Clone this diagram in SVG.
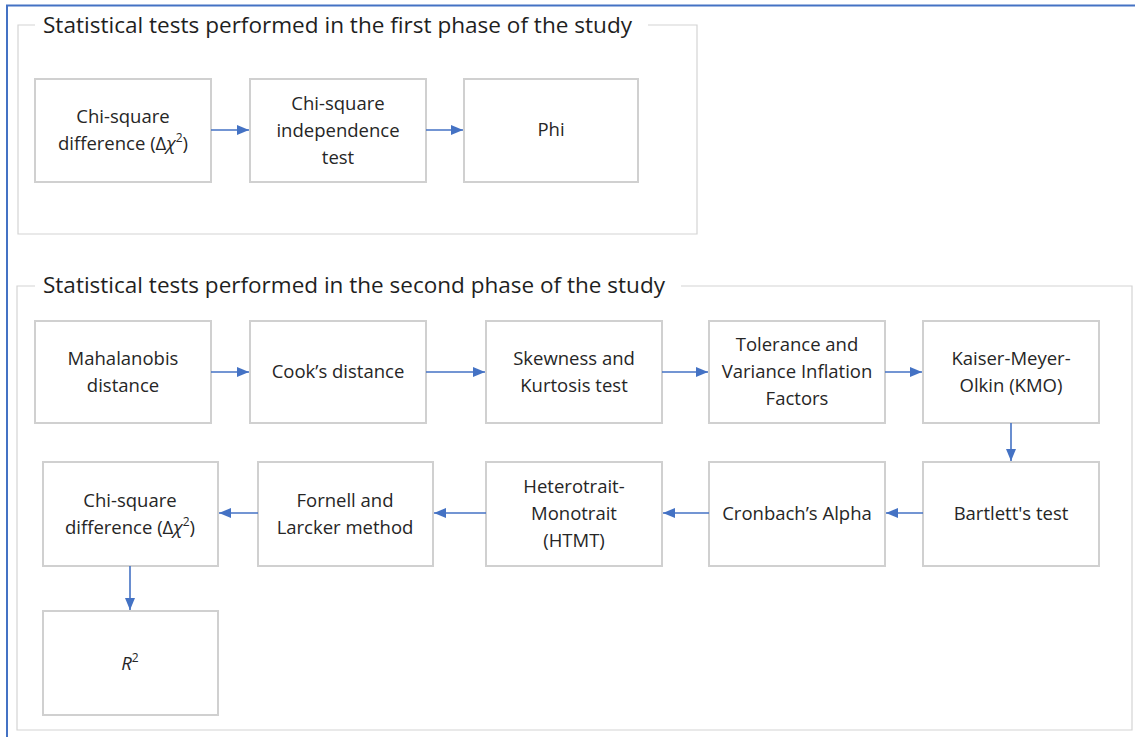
<svg xmlns="http://www.w3.org/2000/svg" width="1135" height="737" viewBox="0 0 1135 737">
  <style>
    .frame { fill: none; stroke: #d4d4d4; stroke-width: 1.2; }
    .box { fill: #ffffff; stroke: #d0d0d0; stroke-width: 2; }
    .title { font-family: "Open Sans", "Noto Sans", sans-serif; font-size: 21px; fill: #1f1f1f; }
    .lbl { font-family: "Open Sans", "Noto Sans", sans-serif; font-size: 18.5px; fill: #262626; text-anchor: middle; }
    .it { font-style: italic; }
    .sup { font-size: 12px; }
    .conn { stroke: #4472c4; stroke-width: 1.6; fill: none; marker-end: url(#ah); }
  </style>
  <defs>
    <marker id="ah" viewBox="0 0 12 10" refX="12" refY="5" markerWidth="12" markerHeight="10" markerUnits="userSpaceOnUse" orient="auto">
      <path d="M0,0 L12,5 L0,10 z" fill="#4472c4"/>
    </marker>
  </defs>
  <rect width="1135" height="737" fill="#ffffff"/>

  <!-- outer blue border -->
  <path d="M7,737 V5.5 H1135" fill="none" stroke="#4472c4" stroke-width="2"/>

  <!-- phase frames -->
  <g id="phase1">
    <path class="frame" d="M35,25 H18 V234 H697 V25 H648"/>
    <text class="title" x="43" y="33" textLength="589" lengthAdjust="spacingAndGlyphs">Statistical tests performed in the first phase of the study</text>
  </g>
  <g id="phase2">
    <path class="frame" d="M35,286 H17 V730 H1132 V286 H681"/>
    <text class="title" x="43" y="293" textLength="622" lengthAdjust="spacingAndGlyphs">Statistical tests performed in the second phase of the study</text>
  </g>

  <!-- phase 1 nodes -->
  <g id="p1-chisq-diff">
    <rect class="box" x="35" y="79" width="176" height="103"/>
    <text class="lbl" x="123" y="123">Chi-square</text>
    <text class="lbl" x="123" y="150">difference (Δ<tspan class="it">χ</tspan><tspan class="sup" dy="-8">2</tspan><tspan dy="8">)</tspan></text>
  </g>
  <g id="p1-chisq-indep">
    <rect class="box" x="250" y="79" width="176" height="103"/>
    <text class="lbl" x="338" y="110">Chi-square</text>
    <text class="lbl" x="338" y="137">independence</text>
    <text class="lbl" x="338" y="164">test</text>
  </g>
  <g id="p1-phi">
    <rect class="box" x="464" y="79" width="174" height="103"/>
    <text class="lbl" x="551" y="136">Phi</text>
  </g>

  <!-- phase 2, first row -->
  <g id="mahalanobis">
    <rect class="box" x="35" y="321" width="176" height="102"/>
    <text class="lbl" x="123" y="365">Mahalanobis</text>
    <text class="lbl" x="123" y="392">distance</text>
  </g>
  <g id="cooks">
    <rect class="box" x="250" y="321" width="176" height="102"/>
    <text class="lbl" x="338" y="378">Cook’s distance</text>
  </g>
  <g id="skew-kurt">
    <rect class="box" x="486" y="321" width="176" height="102"/>
    <text class="lbl" x="574" y="365">Skewness and</text>
    <text class="lbl" x="574" y="392">Kurtosis test</text>
  </g>
  <g id="tol-vif">
    <rect class="box" x="709" y="321" width="176" height="102"/>
    <text class="lbl" x="797" y="351">Tolerance and</text>
    <text class="lbl" x="797" y="378">Variance Inflation</text>
    <text class="lbl" x="797" y="405">Factors</text>
  </g>
  <g id="kmo">
    <rect class="box" x="923" y="321" width="176" height="102"/>
    <text class="lbl" x="1011" y="365">Kaiser-Meyer-</text>
    <text class="lbl" x="1011" y="392">Olkin (KMO)</text>
  </g>

  <!-- phase 2, second row -->
  <g id="bartlett">
    <rect class="box" x="923" y="462" width="176" height="104"/>
    <text class="lbl" x="1011" y="520">Bartlett's test</text>
  </g>
  <g id="cronbach">
    <rect class="box" x="709" y="462" width="176" height="104"/>
    <text class="lbl" x="797" y="520">Cronbach’s Alpha</text>
  </g>
  <g id="htmt">
    <rect class="box" x="486" y="462" width="176" height="104"/>
    <text class="lbl" x="574" y="493">Heterotrait-</text>
    <text class="lbl" x="574" y="520">Monotrait</text>
    <text class="lbl" x="574" y="547">(HTMT)</text>
  </g>
  <g id="fornell-larcker">
    <rect class="box" x="258" y="462" width="175" height="104"/>
    <text class="lbl" x="345" y="507">Fornell and</text>
    <text class="lbl" x="345" y="534">Larcker method</text>
  </g>
  <g id="p2-chisq-diff">
    <rect class="box" x="43" y="462" width="175" height="104"/>
    <text class="lbl" x="130" y="507">Chi-square</text>
    <text class="lbl" x="130" y="534">difference (Δ<tspan class="it">χ</tspan><tspan class="sup" dy="-8">2</tspan><tspan dy="8">)</tspan></text>
  </g>
  <g id="r-squared">
    <rect class="box" x="43" y="611" width="175" height="104"/>
    <text class="lbl" x="130" y="670"><tspan class="it">R</tspan><tspan class="sup" dy="-8">2</tspan></text>
  </g>

  <!-- connectors -->
  <g id="connectors">
    <line class="conn" x1="211" y1="130" x2="249" y2="130"/>
    <line class="conn" x1="426" y1="130" x2="463" y2="130"/>
    <line class="conn" x1="211" y1="372" x2="249" y2="372"/>
    <line class="conn" x1="426" y1="372" x2="485" y2="372"/>
    <line class="conn" x1="662" y1="372" x2="708" y2="372"/>
    <line class="conn" x1="885" y1="372" x2="922" y2="372"/>
    <line class="conn" x1="1011" y1="423" x2="1011" y2="461"/>
    <line class="conn" x1="923" y1="513" x2="886" y2="513"/>
    <line class="conn" x1="709" y1="513" x2="663" y2="513"/>
    <line class="conn" x1="486" y1="513" x2="434" y2="513"/>
    <line class="conn" x1="258" y1="513" x2="219" y2="513"/>
    <line class="conn" x1="130" y1="566" x2="130" y2="610"/>
  </g>
</svg>
